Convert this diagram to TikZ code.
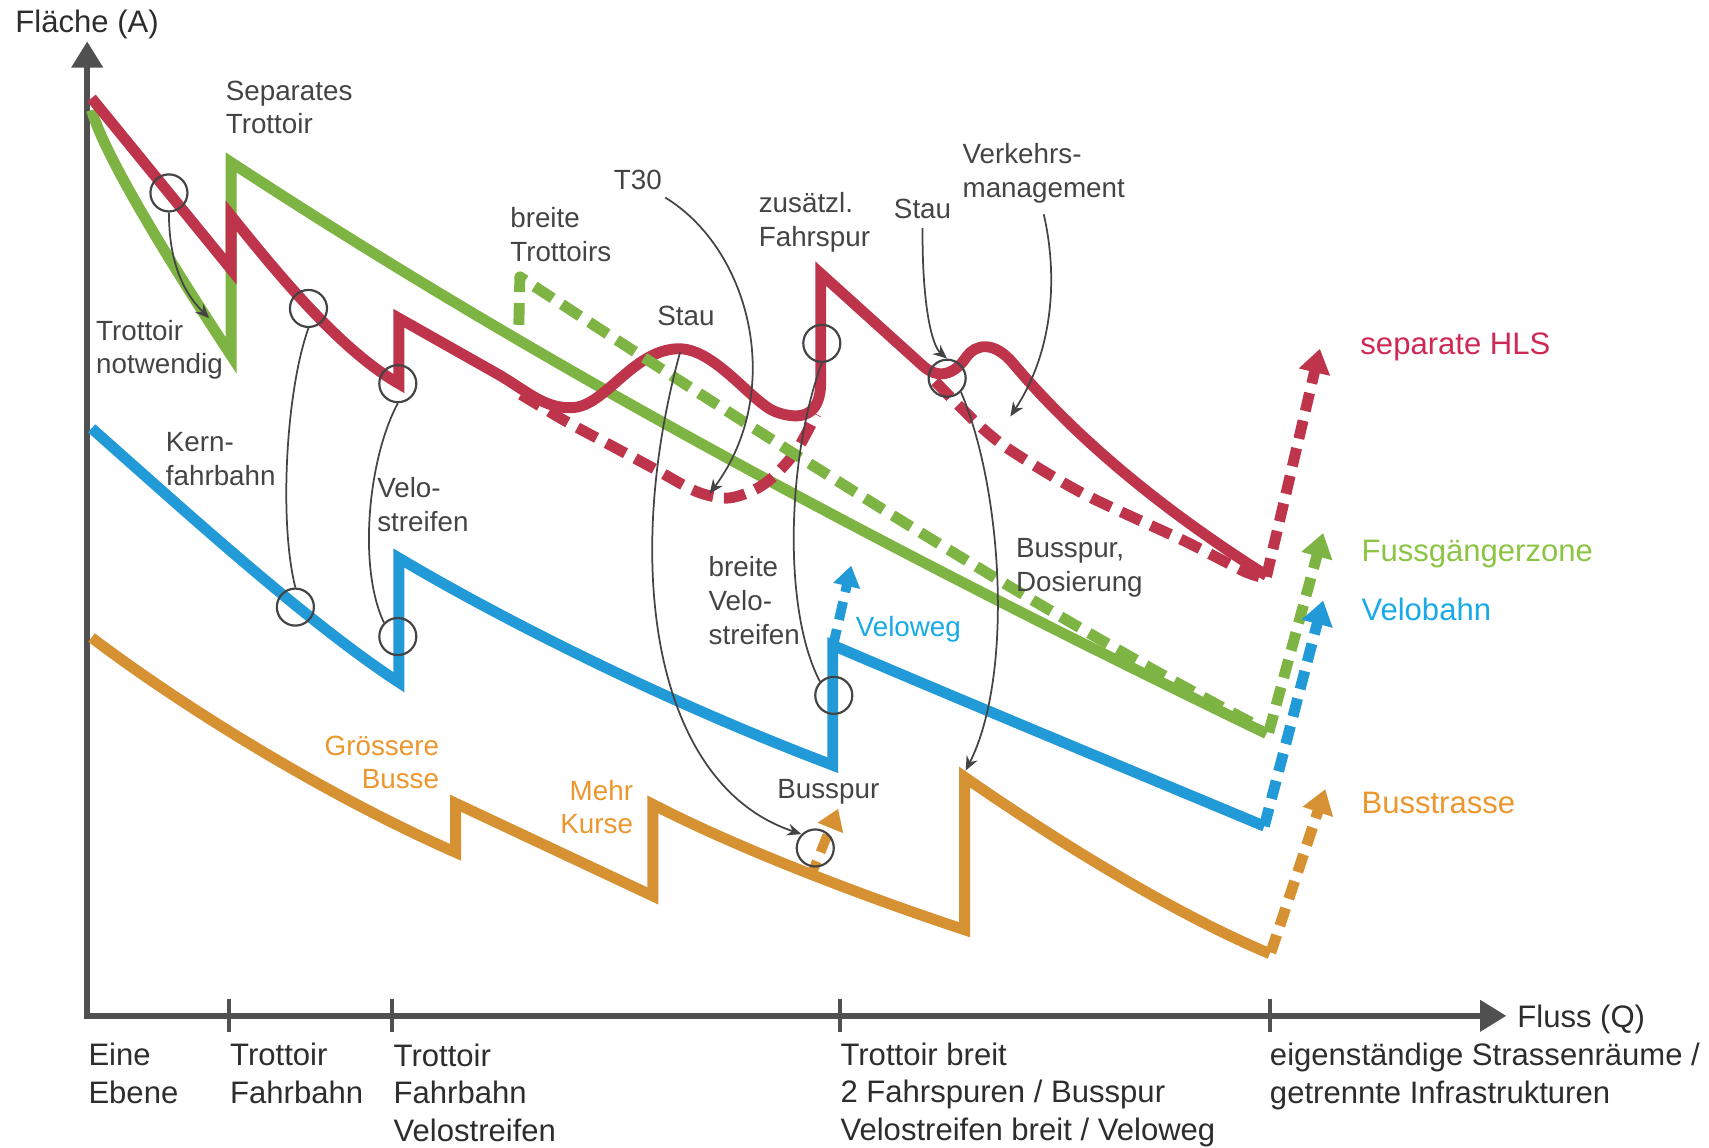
\documentclass[tikz,border=0pt]{standalone}
\usepackage{fontspec}
\setmainfont{Liberation Sans}
\usetikzlibrary{arrows.meta}

\definecolor{lineRed}{RGB}{190,52,74}
\definecolor{lineGreen}{RGB}{126,180,67}
\definecolor{lineBlue}{RGB}{34,154,215}
\definecolor{lineOrange}{RGB}{214,146,50}
\definecolor{txtRed}{RGB}{208,40,84}
\definecolor{txtGreen}{RGB}{140,196,68}
\definecolor{txtBlue}{RGB}{24,170,232}
\definecolor{txtOrange}{RGB}{236,150,46}
\definecolor{ink}{RGB}{68,68,68}
\definecolor{axisGray}{RGB}{80,80,80}
\definecolor{darkText}{RGB}{45,45,45}

\begin{document}
\begin{tikzpicture}[x=1pt, y=-1pt,
  curve/.style={line width=10pt, line join=miter, miter limit=10},
  mainDash/.style={dash pattern=on 20pt off 10pt},
  arrDash/.style={dash pattern=on 17pt off 9pt},
  bigTip/.style={-{Triangle[length=22pt,width=28pt]}},
  smallTip/.style={-{Triangle[length=19pt,width=24pt]}},
  axisLine/.style={draw=axisGray, line width=5pt, line join=miter},
  tickLine/.style={draw=axisGray, line width=3.5pt},
  conn/.style={draw=ink, line width=1.6pt},
  connTip/.style={-{Stealth[length=13pt,width=11pt]}},
  ring/.style={circle, draw=ink, line width=2pt, minimum size=34pt, inner sep=0pt},
  note/.style={inner sep=0pt, align=left, anchor=west, text=ink,
    font=\fontsize{25.5}{31}\selectfont},
  bigText/.style={inner sep=0pt, align=left, anchor=west, text=darkText,
    font=\fontsize{28.5}{34.5}\selectfont}
]
\useasboundingbox (0,0) rectangle (1568,1053);

% ---------- axes ----------
\draw[axisLine, {Triangle[length=24pt,width=28pt]}-{Triangle[length=24pt,width=28pt]}]
  (80,38) -- (80,932) -- (1382,932);
\foreach \tx in {210,360,771,1165}
  \draw[tickLine] (\tx,917) -- (\tx,947);

% ---------- pedestrians (green) ----------
\draw[curve, draw=lineGreen] (84,101) .. controls (95,140) and (150,232) .. (212,326)
  -- (212,149) .. controls (420,285) and (700,450) .. (1162,673);

% ---------- motorised traffic (red) ----------
\draw[curve, draw=lineRed, mainDash] plot[smooth] coordinates
  {(478,362) (520,387) (563,410) (602,431) (639,451) (667,457) (691,450) (710,437) (731,413) (749,380)};
\draw[curve, draw=lineRed, mainDash] plot[smooth] coordinates
  {(858,350) (896,388) (927,413) (994,453) (1086,496) (1141,524) (1160,530)};
\draw[curve, draw=lineRed]
  (84,90) -- (212,247) -- (212,198) .. controls (250,245) and (310,320) .. (366,352)
  -- (366,292) -- (458,344) .. controls (485,360) and (500,375) .. (525,374)
  .. controls (555,373) and (580,322) .. (621,320)
  .. controls (655,318) and (690,370) .. (712,378)
  .. controls (735,386) and (753,382) .. (753,350)
  -- (753,251) -- (846,335) .. controls (860,348) and (875,345) .. (887,327)
  .. controls (895,316) and (912,312) .. (930,334)
  .. controls (990,405) and (1070,470) .. (1162,528);
\draw[curve, draw=lineRed, arrDash, bigTip] (1162,529) -- (1211,320);

% green dashed variant
\draw[curve, draw=lineGreen, mainDash, line join=round]
  (476,298) -- (477,254) .. controls (700,400) and (950,560) .. (1150,664);
\draw[curve, draw=lineGreen, arrDash, bigTip] (1164,672) -- (1214,489);

% ---------- cycling (blue) ----------
\draw[curve, draw=lineBlue]
  (84,393) .. controls (160,460) and (280,570) .. (366,626) -- (366,512)
  .. controls (450,562) and (600,640) .. (764,702) -- (764,592)
  .. controls (900,650) and (1050,712) .. (1160,758);
\draw[line width=9pt, draw=lineBlue, arrDash, smallTip] (764,594) -- (781,519);
\draw[curve, draw=lineBlue, arrDash, bigTip] (1160,758) -- (1214,551);

% ---------- public transport (orange) ----------
\draw[curve, draw=lineOrange]
  (84,585) .. controls (170,650) and (300,730) .. (418,782) -- (418,737)
  -- (599,822) -- (599,738) .. controls (680,780) and (800,825) .. (885,853)
  -- (885,713) .. controls (960,765) and (1070,835) .. (1165,875);
\draw[line width=9pt, draw=lineOrange, arrDash, smallTip] (743,806) -- (769,742);
\draw[curve, draw=lineOrange, arrDash, bigTip] (1166,874) -- (1216,724);

% ---------- markers ----------
\node[ring] (c1) at (155,177) {};
\node[ring] (c2) at (283,283) {};
\node[ring] (c3) at (365,352) {};
\node[ring] (c4) at (271,557) {};
\node[ring] (c5) at (365,584) {};
\node[ring] (c6) at (765,638) {};
\node[ring] (c7) at (869,347) {};
\node[ring] (c8) at (754,315) {};
\node[ring] (c9) at (748,778) {};

% ---------- annotations ----------
\node[note] (sepT) at (207,98.5) {Separates\\Trottoir};
\node[note] (notw) at (88,321) {Trottoir\\notwendig};
\node[note] (brT) at (468,215.5) {breite\\Trottoirs};
\node[note] (t30) at (563,165) {T30};
\node[note] (stauA) at (603,290) {Stau};
\node[note] (zfs) at (696,203.7) {zusätzl.\\Fahrspur};
\node[note] (stauB) at (820,192) {Stau};
\node[note] (vm) at (883,159) {Verkehrs-\\management};
\node[note] (kern) at (152,421.5) {Kern-\\fahrbahn};
\node[note] (velS) at (346,463) {Velo-\\streifen};
\node[note] (brV) at (650,551) {breite\\Velo-\\streifen};
\node[note] (bDos) at (932,521) {Busspur,\\Dosierung};
\node[note] (bSp) at (713,726.5) {Busspur};
\node[note, text=txtBlue] (vweg) at (785,577.5) {Veloweg};
\node[note, text=txtOrange, anchor=east, align=right] (grB) at (403,699.5) {Grössere\\Busse};
\node[note, text=txtOrange, anchor=east, align=right] (mK) at (581,740.5) {Mehr\\Kurse};

% ---------- connectors ----------
\coordinate (notwTip) at (192,292);
\coordinate (stauPeak) at (624,323);
\coordinate (t30Tip) at (651,453);
\coordinate (vmTip) at (927,382);
\coordinate (orTop) at (886,707);

\draw[conn, connTip] (c1.south) .. controls (155,235) and (165,265) .. (notwTip);
\draw[conn] (c2.south) .. controls (262,360) and (256,480) .. (c4.north);
\draw[conn] (c3.south) .. controls (338,420) and (328,520) .. (c5.north west);
\draw[conn, connTip] (stauPeak) .. controls (570,520) and (600,720) .. (c9.north west);
\draw[conn] (c8.south) .. controls (722,420) and (718,560) .. (c6.north west);
\draw[conn, connTip] ([shift={(3pt,-7pt)}]t30.south east) .. controls (690,230) and (720,360) .. (t30Tip);
\draw[conn, connTip] ([yshift=-8pt]stauB.south) .. controls (846,285) and (856,318) .. (c7.north);
\draw[conn, connTip] ([yshift=-10pt]vm.south) .. controls (970,250) and (968,320) .. (vmTip);
\draw[conn, connTip] (c7.south east) .. controls (920,450) and (930,620) .. (orTop);

% ---------- axis and line labels ----------
\node[bigText] (yLab) at (14,22) {Fläche (A)};
\node[bigText] (xLab) at (1392,935) {Fluss (Q)};
\node[bigText] (q0) at (81,985) {Eine\\Ebene};
\node[bigText] (q1) at (211,985) {Trottoir\\Fahrbahn};
\node[bigText] (q2) at (361,1002.5) {Trottoir\\Fahrbahn\\Velostreifen};
\node[bigText] (q3) at (771,1004.5) {Trottoir breit\\2 Fahrspuren / Busspur\\Velostreifen breit / Veloweg};
\node[bigText] (q4) at (1165,987.5) {eigenständige Strassenräume /\\getrennte Infrastrukturen};

\node[bigText, text=txtRed] (lHLS) at (1248,318) {separate HLS};
\node[bigText, text=txtGreen] (lFuss) at (1249,508) {Fussgängerzone};
\node[bigText, text=txtBlue] (lVelo) at (1249,559) {Velobahn};
\node[bigText, text=txtOrange] (lBus) at (1249,737) {Busstrasse};
\end{tikzpicture}
\end{document}
